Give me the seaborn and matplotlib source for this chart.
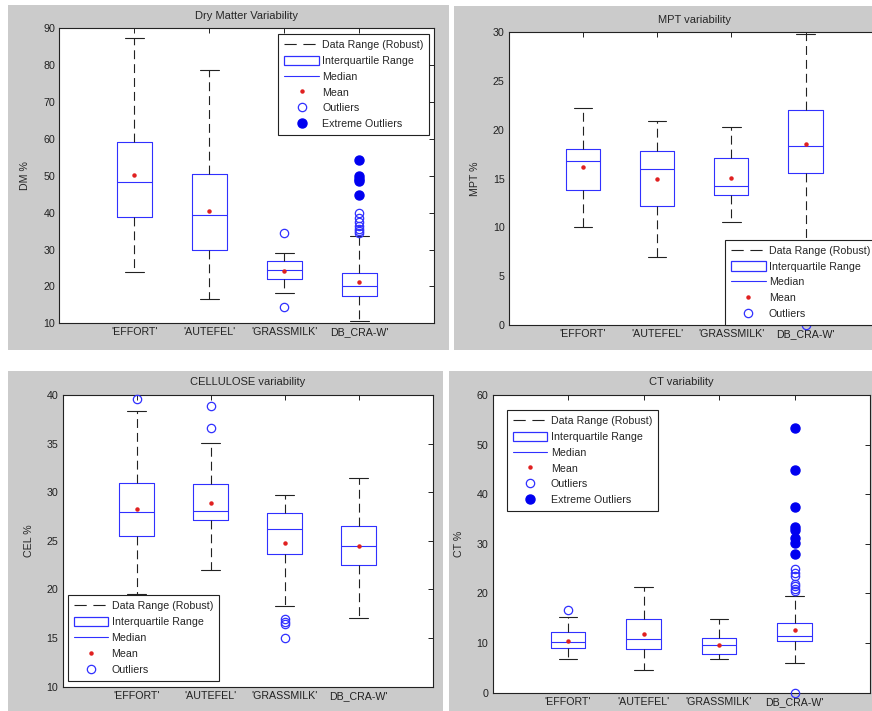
import numpy as np
import pandas as pd
import matplotlib
matplotlib.use("Agg")
import matplotlib.pyplot as plt
from matplotlib.lines import Line2D
from matplotlib.patches import Patch, Rectangle
import seaborn as sns

groups = ["'EFFORT'", "'AUTEFEL'", "'GRASSMILK'", "DB_CRA-W'"]

# Dry matter (DM %): whisker ends, quartiles, median, mean, outliers
dm_low = [24.0, 16.6, 18.3, 10.5]
dm_q1 = [38.9, 29.9, 21.9, 17.3]
dm_med = [48.2, 39.5, 24.5, 20.0]
dm_q3 = [59.3, 50.5, 26.9, 23.6]
dm_high = [87.3, 78.6, 29.0, 33.6]
dm_mean = [50.2, 40.4, 24.3, 21.1]
dm_out_group = [2, 2, 3, 3, 3, 3, 3, 3, 3]
dm_out = [34.5, 14.4, 39.8, 38.6, 37.5, 36.4, 35.5, 35.0, 34.6]
dm_ext_group = [3, 3, 3, 3, 3]
dm_ext = [54.4, 49.9, 49.2, 48.7, 44.8]

# MPT %
mpt_low = [10.0, 7.0, 10.6, 4.0]
mpt_q1 = [13.8, 12.2, 13.3, 15.6]
mpt_med = [16.8, 16.0, 14.2, 18.3]
mpt_q3 = [18.0, 17.8, 17.1, 22.0]
mpt_high = [22.2, 20.9, 20.3, 29.8]
mpt_mean = [16.2, 15.0, 15.1, 18.6]
mpt_out_group = [3]
mpt_out = [0.0]

# Cellulose (CEL %)
cel_low = [19.5, 22.0, 18.3, 17.1]
cel_q1 = [25.5, 27.1, 23.6, 22.5]
cel_med = [28.0, 28.1, 26.2, 24.5]
cel_q3 = [30.9, 30.8, 27.9, 26.5]
cel_high = [38.4, 35.05, 29.7, 31.5]
cel_mean = [28.3, 28.9, 24.8, 24.5]
cel_out_group = [0, 1, 1, 2, 2, 2, 2]
cel_out = [39.6, 38.9, 36.6, 17.0, 16.7, 16.4, 15.0]

# CT %
ct_low = [6.8, 4.6, 6.8, 6.0]
ct_q1 = [9.1, 8.8, 7.8, 10.4]
ct_med = [10.3, 10.8, 9.6, 11.5]
ct_q3 = [12.2, 14.9, 11.0, 14.0]
ct_high = [15.2, 21.3, 14.9, 19.4]
ct_mean = [10.5, 11.8, 9.7, 12.7]
ct_out_group = [0, 3, 3, 3, 3, 3, 3, 3, 3]
ct_out = [16.7, 24.9, 24.2, 23.5, 22.0, 21.5, 20.9, 20.4, 0.0]
ct_ext_group = [3, 3, 3, 3, 3, 3, 3, 3]
ct_ext = [53.4, 44.8, 37.5, 33.4, 32.8, 31.2, 30.2, 27.9]

BLUE = "#3030ff"
DARK = "#222222"
PANEL = "#cbcbcb"
FS = 7.7
WHISKER_DASH = (0, (8.0, 4.5))
LEGEND_DASH = (0, (11.0, 6.0))

sns.set_style("white")
plt.rcParams["font.family"] = ["Liberation Sans", "DejaVu Sans"]

W, H = 872, 711
fig = plt.figure(figsize=(W / 100, H / 100), dpi=100)
fig.patch.set_facecolor("white")


def px_rect(x0, y0, x1, y1):
    return [x0 / W, 1 - y1 / H, (x1 - x0) / W, (y1 - y0) / H]


# grey figure panels, kept beneath the axes
for (x0, y0, x1, y1) in [(8, 5, 449, 350), (454, 6, 872, 350),
                         (8, 371, 443, 711), (449, 371, 872, 711)]:
    r = px_rect(x0, y0, x1, y1)
    fig.patches.append(Rectangle((r[0], r[1]), r[2], r[3], transform=fig.transFigure,
                                 facecolor=PANEL, edgecolor="none", zorder=-5))


def panel(rect_px, title, ylabel, low, q1, med, q3, high, mean,
          out_g, out_v, ext_g, ext_v, ylim, yticks, legend_loc, legend_anchor):
    ax = fig.add_axes(px_rect(*rect_px))
    ax.set_zorder(2)
    ax.set_facecolor("white")
    n = len(groups)
    # five-number summaries drawn as boxes spanning the full range
    df = pd.DataFrame({
        "group": np.repeat(groups, 5),
        "value": np.ravel(np.column_stack([low, q1, med, q3, high])),
    })
    sns.boxplot(data=df, x="group", y="value", order=groups, whis=(0, 100),
                width=0.46, fill=False, linecolor=BLUE, linewidth=0.8,
                showfliers=False, capwidths=0.25,
                whiskerprops=dict(color=DARK, linestyle=WHISKER_DASH, linewidth=0.8),
                capprops=dict(color=DARK, linewidth=0.8),
                medianprops=dict(color=BLUE, linewidth=0.8),
                boxprops=dict(color=BLUE, linewidth=0.8),
                ax=ax)
    pos = np.arange(n)
    ax.plot(pos, mean, linestyle="none", marker="o", markersize=2.2,
            color="#e02020", zorder=4)
    if out_v:
        ax.plot(out_g, out_v, linestyle="none", marker="o", markersize=6,
                markerfacecolor="none", markeredgecolor=BLUE, markeredgewidth=0.9,
                clip_on=False, zorder=3)
    if ext_v:
        ax.plot(ext_g, ext_v, linestyle="none", marker="o", markersize=6.5,
                color="#0000f0", clip_on=False, zorder=3)

    ax.set_xlim(-1, n)
    ax.set_ylim(*ylim)
    ax.set_yticks(yticks)
    ax.set_xticks(pos)
    ax.set_xticklabels(groups)
    ax.set_xlabel("")
    ax.set_ylabel(ylabel, fontsize=FS)
    axw = rect_px[2] - rect_px[0]
    ax.yaxis.set_label_coords(-29 / axw, 0.5)
    ax.set_title(title, fontsize=8, pad=7)
    ax.tick_params(direction="in", length=3.5, width=0.7, top=True, right=True,
                   labelsize=FS, pad=3, colors=DARK)
    for s in ax.spines.values():
        s.set_visible(True)
        s.set_color(DARK)
        s.set_linewidth(0.8)

    handles = [
        Line2D([0], [0], color=DARK, linestyle=LEGEND_DASH, linewidth=0.8),
        Patch(facecolor="white", edgecolor=BLUE, linewidth=0.9),
        Line2D([0], [0], color=BLUE, linewidth=0.8),
        Line2D([0], [0], linestyle="none", marker="o", markersize=2.2, color="#e02020"),
        Line2D([0], [0], linestyle="none", marker="o", markersize=6,
               markerfacecolor="none", markeredgecolor=BLUE, markeredgewidth=0.9),
    ]
    labels = ["Data Range (Robust)", "Interquartile Range", "Median", "Mean", "Outliers"]
    if ext_v:
        handles.append(Line2D([0], [0], linestyle="none", marker="o", markersize=6.5,
                              color="#0000f0"))
        labels.append("Extreme Outliers")
    leg = ax.legend(handles, labels, loc=legend_loc, bbox_to_anchor=legend_anchor,
                    borderaxespad=0, fontsize=FS, frameon=True, fancybox=False,
                    framealpha=1, edgecolor=DARK, handlelength=3.25, handleheight=0.95,
                    handletextpad=0.3, labelspacing=0.52, borderpad=0.55)
    leg.get_frame().set_linewidth(0.8)
    leg.set_zorder(10)
    return ax


panel((59.3, 28.3, 434.3, 323.3), "Dry Matter Variability", "DM %",
      dm_low, dm_q1, dm_med, dm_q3, dm_high, dm_mean,
      dm_out_group, dm_out, dm_ext_group, dm_ext,
      (10, 90), np.arange(10, 91, 10), "upper right", (0.987, 0.981))

panel((508.7, 32.3, 879.7, 325.0), "MPT variability", "MPT %",
      mpt_low, mpt_q1, mpt_med, mpt_q3, mpt_high, mpt_mean,
      mpt_out_group, mpt_out, [], [],
      (0, 30), np.arange(0, 31, 5), "lower left", (0.583, 0.0))

panel((62.5, 395.0, 432.5, 686.7), "CELLULOSE variability", "CEL %",
      cel_low, cel_q1, cel_med, cel_q3, cel_high, cel_mean,
      cel_out_group, cel_out, [], [],
      (10, 40), np.arange(10, 41, 5), "lower left", (0.014, 0.021))

panel((492.5, 395.0, 870.0, 692.7), "CT variability", "CT %",
      ct_low, ct_q1, ct_med, ct_q3, ct_high, ct_mean,
      ct_out_group, ct_out, ct_ext_group, ct_ext,
      (0, 60), np.arange(0, 61, 10), "upper left", (0.038, 0.95))

fig.savefig("out.png", dpi=100)
